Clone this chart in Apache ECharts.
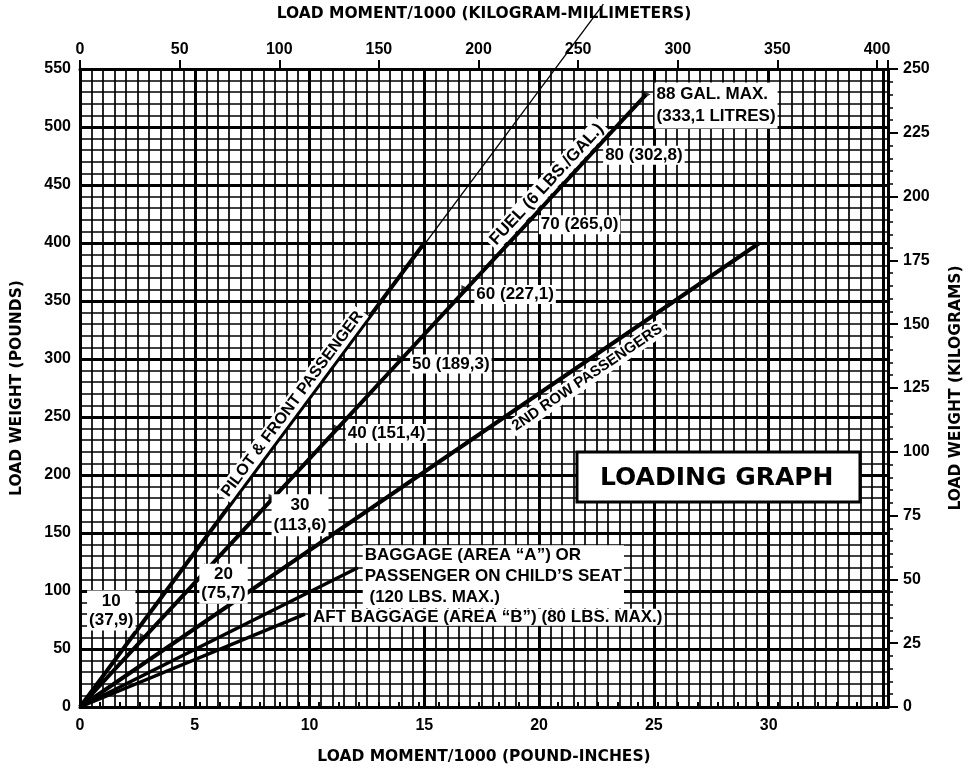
<!DOCTYPE html>
<html>
<head>
<meta charset="utf-8">
<script src="https://cdn.jsdelivr.net/npm/echarts@6/dist/echarts.min.js"></script>
<style>
html,body{margin:0;padding:0;background:#fff;}
#c{width:972px;height:770px;}
</style>
</head>
<body>
<div id="c"></div>
<script>
// ---------- data ----------
const momentTicksLbIn = [0, 5, 10, 15, 20, 25, 30];          // bottom labels (x1000 lb-in)
const momentTicksKgMm = [0, 50, 100, 150, 200, 250, 300, 350, 400]; // top labels (x1000 kg-mm)
const weightTicksLb = [0, 50, 100, 150, 200, 250, 300, 350, 400, 450, 500, 550];
const weightTicksKg = [0, 25, 50, 75, 100, 125, 150, 175, 200, 225, 250];

const pilotLine = [[0, 0], [15.0, 400]];
const pilotExtension = [[0, 0], [22.8, 606]];   // thin line running off the top
const secondRowLine = [[0, 0], [29.6, 400]];
const baggageALine = [[0, 0], [12.1, 120]];
const aftBaggageLine = [[0, 0], [9.8, 80]];

const fuelWeights = [60, 120, 180, 240, 300, 360, 420, 480, 528];
const fuelMoments = [2.80, 5.60, 8.41, 11.21, 14.01, 16.81, 19.62, 22.42, 24.66];
const fuelGallons = ['10', '20', '30', '40', '50', '60', '70', '80', '88'];
const fuelLitres = ['37,9', '75,7', '113,6', '151,4', '189,3', '227,1', '265,0', '302,8', '333,1'];

const lbInMax = 35.2;
const kgMmMax = 405.5;
const lbMax = 550;
const kgMax = 250;

// ---------- styling ----------
const FONT = 'Liberation Sans';
const txt = (size, fam) => ({ color: '#000', fontFamily: fam || FONT, fontWeight: 'bold', fontSize: size, opacity: 1 });
const TITLE = (s) => txt(s || 15.5, 'DejaVu Sans');
const BLACK = '#000';

const fuelLabelCfg = (i) => {
  const base = Object.assign(txt(17), { show: true, backgroundColor: '#fff', padding: [1, 2], formatter: '{b}' });
  if (i === 0) return Object.assign(base, { position: 'inside', align: 'center', verticalAlign: 'middle', offset: [-33, -27], lineHeight: 19 });
  if (i === 1) return Object.assign(base, { position: 'inside', align: 'center', verticalAlign: 'middle', offset: [15, 16], lineHeight: 19 });
  if (i === 2) return Object.assign(base, { position: 'inside', align: 'center', verticalAlign: 'middle', offset: [27, 17], lineHeight: 20 });
  if (i === 8) return Object.assign(base, { position: 'right', distance: 4, align: 'left', offset: [0, 11], lineHeight: 22 });
  return Object.assign(base, { position: 'right', distance: 4, offset: [0, 5] });
};
const fuelText = (i) => {
  if (i < 3) return fuelGallons[i] + '\n(' + fuelLitres[i] + ')';
  if (i === 8) return fuelGallons[i] + ' GAL. MAX.\n(' + fuelLitres[i] + ' LITRES)';
  return fuelGallons[i] + ' (' + fuelLitres[i] + ')';
};
const fuelItems = fuelWeights.map((w, i) => ({
  name: fuelText(i), value: [fuelMoments[i], w], label: fuelLabelCfg(i)
}));

const along = (pt, f) => [pt[0] * f, pt[1] * f];
const nameLabel = (size, rot, off) => Object.assign(txt(size), {
  show: true, position: 'inside', rotate: rot, offset: off, align: 'center', verticalAlign: 'middle',
  backgroundColor: '#fff', padding: [1, 3], formatter: '{b}'
});
const nameItems = [
  { name: 'PILOT & FRONT PASSENGER', value: along(pilotLine[1], 0.64), label: nameLabel(16, 53.4, [0, -10]) },
  { name: 'FUEL (6 LBS./GAL.)', value: along([fuelMoments[8], fuelWeights[8]], 0.84), label: nameLabel(17, 47.1, [0, -12]) },
  { name: '2ND ROW PASSENGERS', value: along(secondRowLine[1], 0.735), label: nameLabel(15, 34.3, [0, 14]) },
  { name: 'BAGGAGE (AREA \u201CA\u201D) OR\nPASSENGER ON CHILD\u2019S SEAT\n (120 LBS. MAX.)', value: baggageALine[1],
    label: Object.assign(txt(17), { show: true, position: 'right', distance: 5, align: 'left', offset: [0, 9], lineHeight: 21, backgroundColor: '#fff', padding: [0, 2], formatter: '{b}' }) },
  { name: 'AFT BAGGAGE (AREA \u201CB\u201D) (80 LBS. MAX.)', value: aftBaggageLine[1],
    label: Object.assign(txt(17), { show: true, position: 'right', distance: 6, align: 'left', offset: [0, 3], backgroundColor: '#fff', padding: [0, 2], formatter: '{b}' }) }
];

const lineSeries = (data, width, extra) => Object.assign({
  type: 'line', data: data, xAxisIndex: 0, yAxisIndex: 0, symbol: 'none', silent: true, zlevel: 1, z: 3,
  lineStyle: { color: BLACK, width: width }, emphasis: { disabled: true }
}, extra || {});

const chart = echarts.init(document.getElementById('c'));
chart.setOption({
  animation: false,
  backgroundColor: '#fff',
  grid: { left: 80, right: 81, top: 69, bottom: 62, containLabel: false },
  xAxis: [
    { // bottom, pound-inches
      type: 'value', position: 'bottom', min: 0, max: lbInMax, interval: 5,
      axisLine: { show: true, onZero: false, lineStyle: { color: BLACK, width: 3 } },
      axisTick: { show: false },
      axisLabel: Object.assign(txt(16), { margin: 11, showMaxLabel: true,
        formatter: (v) => momentTicksLbIn.indexOf(v) >= 0 ? String(v) : '' }),
      splitLine: { show: true, lineStyle: { color: BLACK, width: 3 } },
      name: 'LOAD MOMENT/1000 (POUND-INCHES)', nameLocation: 'middle', nameGap: 42,
      nameTextStyle: TITLE()
    },
    { // top, kilogram-millimeters (labels + major ticks)
      type: 'value', position: 'top', min: 0, max: kgMmMax, interval: 50,
      axisLine: { show: true, onZero: false, lineStyle: { color: BLACK, width: 3 } },
      axisTick: { show: true, inside: false, length: 9, lineStyle: { color: BLACK, width: 2 } },
      axisLabel: Object.assign(txt(16), { margin: 11,
        formatter: (v) => momentTicksKgMm.indexOf(v) >= 0 ? String(v) : '' }),
      splitLine: { show: false },
      name: 'LOAD MOMENT/1000 (KILOGRAM-MILLIMETERS)', nameLocation: 'middle', nameGap: 47,
      nameTextStyle: TITLE()
    },
    { // top, minor ticks every 10 kg-mm
      type: 'value', position: 'top', min: 0, max: kgMmMax, interval: 10,
      axisLine: { show: false }, axisLabel: { show: false }, splitLine: { show: false },
      axisTick: { show: true, inside: false, length: 5, lineStyle: { color: BLACK, width: 2 } }
    },
    { // fine vertical grid every 0.5 lb-in
      type: 'value', position: 'bottom', min: 0, max: lbInMax, interval: 0.5,
      axisLine: { show: false }, axisLabel: { show: false }, axisTick: { show: false },
      splitLine: { show: true, lineStyle: { color: BLACK, width: 1.7 } }
    }
  ],
  yAxis: [
    { // left, pounds
      type: 'value', position: 'left', min: 0, max: lbMax, interval: 50,
      axisLine: { show: true, onZero: false, lineStyle: { color: BLACK, width: 3 } },
      axisTick: { show: false },
      axisLabel: Object.assign(txt(16), { margin: 9,
        formatter: (v) => weightTicksLb.indexOf(v) >= 0 ? String(v) : '' }),
      splitLine: { show: true, lineStyle: { color: BLACK, width: 3 } },
      minorTick: { show: false, splitNumber: 5 },
      minorSplitLine: { show: true, lineStyle: { color: BLACK, width: 1.7 } },
      name: 'LOAD WEIGHT (POUNDS)', nameLocation: 'middle', nameGap: 55,
      nameTextStyle: TITLE()
    },
    { // right, kilograms
      type: 'value', position: 'right', min: 0, max: kgMax, interval: 25,
      axisLine: { show: true, onZero: false, lineStyle: { color: BLACK, width: 3 } },
      axisTick: { show: true, inside: false, length: 10, lineStyle: { color: BLACK, width: 2 } },
      minorTick: { show: true, splitNumber: 5, length: 5, lineStyle: { color: BLACK, width: 1.5 } },
      axisLabel: Object.assign(txt(16), { margin: 15,
        formatter: (v) => weightTicksKg.indexOf(v) >= 0 ? String(v) : '' }),
      splitLine: { show: false },
      name: 'LOAD WEIGHT (KILOGRAMS)', nameLocation: 'middle', nameGap: 60,
      nameTextStyle: TITLE()
    }
  ],
  graphic: [
    {
      type: 'group', zlevel: 3, z: 100,
      children: [
        { type: 'rect', zlevel: 3, shape: { x: 577, y: 452, width: 283, height: 50 },
          style: { fill: '#fff', stroke: BLACK, lineWidth: 3 } },
        { type: 'text', zlevel: 3, x: 600, y: 478,
          style: { text: 'LOADING GRAPH', fill: BLACK, font: 'bold 25px "DejaVu Sans"', textVerticalAlign: 'middle', textAlign: 'left' } }
      ]
    }
  ],
  series: [
    lineSeries(pilotExtension, 1.3, { clip: false }),
    lineSeries(pilotLine, 4),
    lineSeries([[0, 0]].concat(fuelMoments.map((m, i) => [m, fuelWeights[i]])), 4),
    lineSeries(secondRowLine, 4),
    lineSeries(baggageALine, 3.5),
    lineSeries(aftBaggageLine, 3.5),
    { type: 'scatter', data: fuelItems, symbol: 'triangle', symbolRotate: -90, symbolSize: 9,
      itemStyle: { color: BLACK }, zlevel: 2, z: 5, silent: true, emphasis: { disabled: true } },
    { type: 'scatter', data: nameItems, symbolSize: 0, zlevel: 2, z: 6, silent: true, emphasis: { disabled: true } }
  ]
});
</script>
</body>
</html>
